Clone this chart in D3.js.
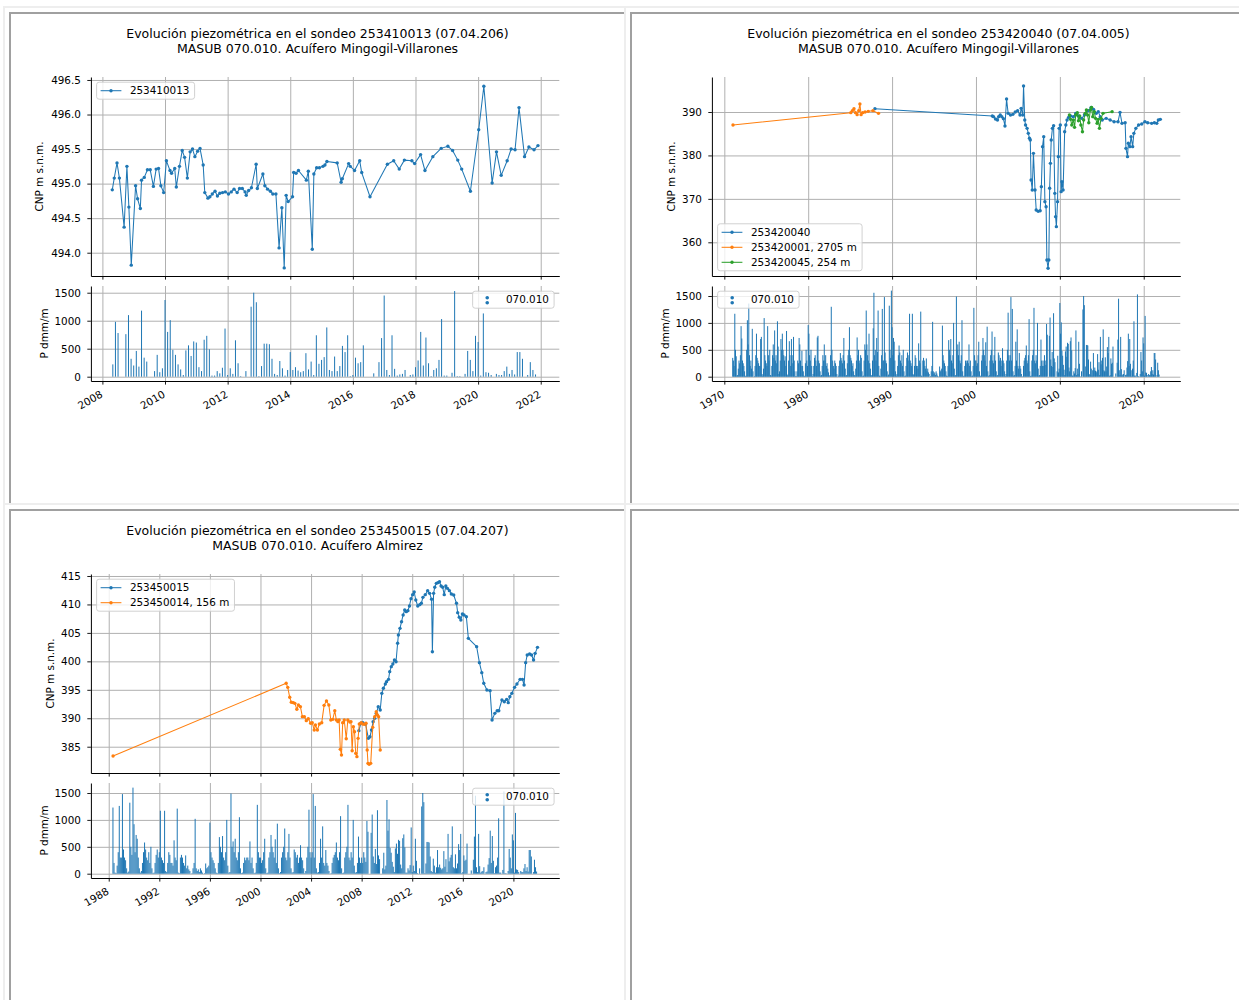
<!DOCTYPE html>
<html><head><meta charset="utf-8">
<script src="https://cdn.jsdelivr.net/npm/d3@7"></script>
<style>body{margin:0;background:#fff}svg{display:block}text{font-family:"DejaVu Sans",sans-serif}</style>
</head><body><svg id="c" width="1239" height="1003"></svg>
<script>
// ---------------- DATA ----------------
// Panel 1: 253410013
const tlDates=[2008.316,2008.379,2008.467,2008.543,2008.694,2008.783,2008.846,2008.922,2009.060,2009.124,2009.212,2009.250,2009.338,2009.439,2009.528,2009.629,2009.717,2009.793,2009.868,2009.957,2010.045,2010.159,2010.209,2010.310,2010.361,2010.462,2010.550,2010.626,2010.714,2010.803,2010.878,2010.954,2011.043,2011.118,2011.219,2011.270,2011.371,2011.434,2011.510,2011.598,2011.674,2011.750,2011.838,2011.926,2012.027,2012.116,2012.204,2012.305,2012.381,2012.469,2012.558,2012.595,2012.671,2012.760,2012.911,2012.949,2013.126,2013.189,2013.277,2013.366,2013.442,2013.542,2013.643,2013.732,2013.807,2013.870,2013.934,2014.072,2014.110,2014.186,2014.262,2014.514,2014.577,2014.704,2014.754,2014.843,2014.931,2015.045,2015.108,2015.171,2015.499,2015.625,2015.663,2015.865,2015.916,2016.054,2016.219,2016.282,2016.547,2017.102,2017.304,2017.481,2017.645,2017.885,2017.973,2018.163,2018.302,2018.554,2018.819,2019.034,2019.185,2019.350,2019.476,2019.754,2020.019,2020.183,2020.448,2020.587,2020.738,2020.928,2021.054,2021.180,2021.307,2021.483,2021.622,2021.786,2021.912];
const tlLevels=[494.91,495.08,495.30,495.08,494.37,495.25,494.66,493.82,494.97,494.78,494.64,495.05,495.09,495.20,495.20,494.96,495.21,495.22,494.97,494.87,495.33,495.19,495.15,495.22,494.95,495.25,495.48,495.38,495.08,495.46,495.50,495.39,495.47,495.51,495.27,494.87,494.79,494.81,494.85,494.89,494.82,494.86,494.87,494.88,494.85,494.88,494.92,494.87,494.93,494.93,494.88,494.83,494.90,494.94,495.28,494.93,495.14,494.97,494.92,494.89,494.85,494.85,494.07,494.65,493.78,494.83,494.74,494.81,495.16,495.15,495.19,495.05,495.18,494.05,495.14,495.23,495.23,495.25,495.27,495.32,495.30,495.02,495.07,495.29,495.25,495.19,495.33,495.16,494.81,495.28,495.33,495.21,495.34,495.33,495.29,495.42,495.19,495.39,495.51,495.54,495.48,495.34,495.21,494.89,495.78,496.41,495.01,495.46,495.12,495.33,495.50,495.49,496.10,495.39,495.53,495.49,495.55];

// Panel 2: 253420040 and neighbours
const trBlueDates=[1987.955,2001.951,2002.093,2002.328,2002.564,2002.705,2002.894,2003.082,2003.271,2003.459,2003.648,2003.836,2004.119,2004.402,2004.685,2004.967,2005.250,2005.391,2005.580,2005.674,2005.816,2005.910,2006.098,2006.240,2006.381,2006.475,2006.569,2006.711,2006.852,2007.041,2007.182,2007.418,2007.653,2007.795,2007.936,2008.078,2008.219,2008.360,2008.455,2008.596,2008.690,2008.785,2008.879,2008.973,2009.115,2009.256,2009.397,2009.491,2009.586,2009.727,2009.821,2009.915,2010.057,2010.151,2010.245,2010.387,2010.575,2010.716,2010.858,2011.046,2011.282,2011.612,2011.895,2012.224,2012.601,2012.931,2013.402,2013.732,2014.015,2014.345,2014.581,2014.816,2015.052,2015.523,2015.994,2016.466,2016.937,2017.173,2017.408,2017.785,2017.880,2018.068,2018.162,2018.351,2018.492,2018.681,2018.822,2019.058,2019.388,2019.765,2020.141,2020.471,2020.943,2021.272,2021.555,2021.744,2021.979];
const trBlueLevels=[390.77,389.08,388.93,388.39,388.16,388.93,389.31,388.93,388.47,386.78,392.99,389.69,389.31,389.46,390.00,390.31,389.31,390.84,389.31,395.99,388.16,387.01,386.24,385.09,383.94,383.55,374.34,372.04,380.48,372.04,367.44,367.13,367.28,372.81,382.02,384.32,369.36,368.20,355.92,354.01,355.92,372.43,378.18,383.55,386.24,386.85,371.27,365.90,363.60,369.36,379.72,386.24,387.01,371.66,373.96,372.04,385.47,387.01,388.16,388.77,389.08,388.93,389.69,389.08,388.54,389.31,390.31,391.07,390.61,389.69,390.08,388.93,388.16,388.54,388.16,387.77,387.77,389.92,387.39,387.54,381.63,379.72,382.79,382.02,384.32,382.02,385.09,386.24,387.01,387.24,387.77,387.54,387.39,387.54,387.39,388.16,388.31];
const trOrangeDates=[1971.037,1985.080,1985.269,1985.457,1985.646,1985.834,1986.023,1986.164,1986.305,1986.494,1986.777,1987.154,1987.720,1988.379];
const trOrangeLevels=[387.01,389.85,390.31,390.77,389.85,389.39,390.31,391.84,389.39,389.85,390.00,390.15,390.31,389.69];
const trGreenDates=[2011.140,2011.282,2011.423,2011.612,2011.753,2011.895,2012.083,2012.224,2012.366,2012.507,2012.696,2012.837,2013.026,2013.167,2013.308,2013.450,2013.638,2013.780,2013.921,2014.109,2014.251,2014.439,2014.581,2014.722,2014.911,2015.146,2016.230];
const trGreenLevels=[389.31,388.31,387.01,388.16,386.47,389.31,389.85,388.00,389.08,387.01,385.47,388.16,389.69,390.46,389.31,387.54,390.46,391.07,388.93,390.08,388.54,387.39,388.31,386.24,388.54,389.69,390.08];

// Panel 3: 253450015 and neighbour
const blBlueDates=[2007.781,2007.938,2008.094,2008.313,2008.531,2008.656,2008.781,2008.906,2009.031,2009.156,2009.313,2009.469,2009.594,2009.719,2009.875,2009.969,2010.125,2010.219,2010.344,2010.469,2010.594,2010.719,2010.844,2010.906,2011.031,2011.156,2011.281,2011.406,2011.531,2011.656,2011.781,2011.906,2012.031,2012.156,2012.281,2012.438,2012.594,2012.719,2012.844,2013.031,2013.219,2013.375,2013.531,2013.594,2013.688,2013.781,2013.906,2014.031,2014.156,2014.281,2014.406,2014.531,2014.656,2014.781,2014.938,2015.094,2015.281,2015.500,2015.594,2015.719,2015.844,2015.969,2016.094,2016.281,2016.438,2017.094,2017.313,2017.500,2017.656,2017.906,2018.156,2018.313,2018.531,2018.719,2018.844,2019.094,2019.281,2019.469,2019.594,2019.719,2019.875,2020.094,2020.281,2020.531,2020.719,2020.844,2020.969,2021.094,2021.281,2021.438,2021.594,2021.719,2021.906];
const blBlueLevels=[387.82,389.11,389.22,388.99,386.47,386.76,387.93,389.40,389.99,390.86,392.04,391.45,394.38,395.26,396.02,396.43,396.84,398.19,399.07,399.53,400.24,399.94,403.17,404.63,405.80,406.97,408.15,409.02,408.73,408.91,409.73,411.02,411.72,412.19,410.78,409.73,409.96,410.20,411.25,411.72,412.42,411.95,410.90,401.70,411.95,413.01,413.71,413.83,414.00,413.24,413.01,411.72,413.24,412.83,412.42,411.84,411.66,410.20,408.56,407.74,407.27,408.32,408.15,407.85,404.04,402.58,399.77,398.01,396.14,394.96,394.85,389.69,390.86,391.33,391.33,393.21,392.91,393.32,392.74,393.79,394.38,395.43,396.02,396.84,396.84,395.84,399.77,401.12,401.29,401.12,400.24,401.41,402.46];
const blOrangeDates=[1988.344,2002.031,2002.156,2002.313,2002.438,2002.594,2002.719,2002.875,2003.000,2003.156,2003.313,2003.469,2003.625,2003.781,2003.969,2004.094,2004.250,2004.344,2004.500,2004.656,2004.844,2005.031,2005.219,2005.406,2005.563,2005.719,2005.875,2006.000,2006.125,2006.219,2006.313,2006.406,2006.500,2006.625,2006.781,2006.906,2007.063,2007.156,2007.250,2007.344,2007.438,2007.531,2007.625,2007.719,2007.813,2007.969,2008.094,2008.219,2008.344,2008.438,2008.500,2008.594,2008.719,2008.875,2009.031,2009.156,2009.250,2009.344,2009.469];
const blOrangeLevels=[383.37,396.14,395.43,393.68,392.80,392.74,392.62,391.57,392.33,392.04,390.28,390.28,389.58,389.93,389.11,389.22,387.93,388.81,387.93,388.99,389.22,392.27,393.03,392.33,389.69,389.81,391.33,389.69,389.40,389.69,384.54,383.54,389.22,389.69,386.41,389.69,389.34,389.40,384.30,388.52,387.64,383.83,383.25,386.47,388.99,389.22,388.99,388.93,389.11,384.42,382.08,381.90,382.08,388.40,390.28,391.16,390.57,390.28,384.42];

// Monthly precipitation, station 070.010 (dmm/month), Jan 1971 .. Dec 2021
const precipStartYear=1971;
const precip=[
350,300,200,1170,500,380,20,30,150,300,250,400,
940,710,300,250,200,100,10,20,500,1050,600,1360,
400,200,300,150,890,100,0,10,200,400,800,350,
300,250,200,200,700,740,50,20,150,1090,400,300,
250,200,940,400,300,500,30,20,200,400,600,350,
860,300,400,250,1030,560,50,100,300,700,500,800,
500,400,300,380,200,850,40,20,300,660,400,200,
700,400,250,740,300,100,10,10,100,300,250,720,
600,300,200,480,200,100,20,10,250,500,300,200,
960,800,400,300,500,200,10,50,200,350,400,300,
200,730,760,300,250,100,20,30,200,400,300,600,
300,400,200,250,150,80,10,30,400,1300,500,300,
200,150,300,250,200,50,0,20,200,300,440,350,
300,250,400,720,300,150,20,30,250,400,500,920,
400,350,300,200,250,100,30,20,150,300,730,400,
500,300,250,400,350,100,10,20,300,600,500,1230,
600,400,300,800,250,150,20,30,300,900,1560,400,
500,300,720,460,1230,200,20,10,150,400,1260,300,
300,1480,450,300,250,100,20,40,1320,500,350,1600,
920,400,720,650,300,100,20,50,200,400,580,450,
300,250,400,200,500,100,10,20,200,350,450,300,
400,1170,300,250,200,1170,50,30,200,400,350,200,
200,150,620,300,250,1210,20,10,300,350,300,200,
150,340,100,150,80,50,0,10,100,200,1020,100,
50,80,30,100,60,20,0,10,190,100,120,150,
950,400,300,250,200,100,20,10,200,680,500,400,
700,300,250,400,1000,150,20,30,1490,500,600,400,
650,300,250,400,1050,100,10,20,200,300,250,300,
300,250,600,200,300,100,10,20,200,1280,400,300,
300,200,250,400,650,100,10,20,300,400,720,500,
400,300,640,200,930,100,10,30,300,400,500,840,
300,250,400,740,300,100,20,30,450,400,300,350,
200,300,530,300,250,100,10,50,300,500,1190,400,
300,400,1480,300,1260,100,20,30,200,650,300,880,
200,150,440,200,150,50,0,10,200,300,350,400,
580,300,250,400,1070,100,10,20,300,400,500,1280,
300,250,400,300,1000,150,20,30,200,690,300,200,
300,200,400,300,220,980,780,0,0,760,1100,320,
200,460,180,1180,340,270,0,0,100,390,80,150,
1370,800,1010,480,390,220,130,30,470,560,370,630,
610,170,100,660,730,490,20,20,100,60,160,860,
30,150,50,650,240,10,0,100,0,1250,1500,1330,
10,190,590,590,580,320,50,30,280,150,20,120,
440,120,170,110,80,100,420,130,270,30,740,230,
300,350,880,120,100,360,100,190,550,440,740,10,
30,340,240,260,560,0,0,0,60,0,260,690,
1450,120,30,740,140,20,40,50,120,0,30,40,
170,290,800,200,700,240,10,120,150,300,1030,20,
20,0,70,1530,10,10,0,50,460,300,100,730,
620,20,1130,80,70,30,0,50,30,30,100,180,
50,120,40,440,440,320,0,30,260,120,40,0];
const precipLabel="070.010";

// Ticks
const tlXTicks=[2008,2010,2012,2014,2016,2018,2020,2022];
const tlYTicks=[494.0,494.5,495.0,495.5,496.0,496.5];
const trXTicks=[1970,1980,1990,2000,2010,2020];
const trYTicks=[360,370,380,390];
const blXTicks=[1988,1992,1996,2000,2004,2008,2012,2016,2020];
const blYTicks=[385,390,395,400,405,410,415];
const pTicks=[0,500,1000,1500];

const BLUE="#1f77b4",ORANGE="#ff7f0e",GREEN="#2ca02c";

// ---------------- DRAW ----------------
const svg=d3.select("#c");
svg.append("rect").attr("width",1239).attr("height",1003).attr("fill","#fff");

// cell frames
[[0,0],[1,0],[0,1],[1,1]].forEach(([c,r])=>{
  const ox=3+621*c, oy=6+497*r;
  const f=svg.append("g");
  f.append("rect").attr("x",ox).attr("y",oy).attr("width",2).attr("height",497).attr("fill","#eeeeee");
  f.append("rect").attr("x",ox).attr("y",oy).attr("width",621).attr("height",2).attr("fill","#eeeeee");
  f.append("rect").attr("x",ox+6).attr("y",oy+6).attr("width",2).attr("height",491).attr("fill","#a0a0a0");
  f.append("rect").attr("x",ox+6).attr("y",oy+6).attr("width",615).attr("height",2).attr("fill","#a0a0a0");
});

const zip=(a,b)=>a.map((d,i)=>[d,b[i]]);
const precipSeries=precip.map((v,i)=>[precipStartYear+i/12,v]);
const FS=10.4;

function legend(g,items,pos){
  const rowH=15,padTop=8.5;
  const h=rowH*items.length+2;
  const lg=g.append("g");
  const box=lg.append("rect");
  let maxW=0;
  items.forEach((it,i)=>{
    const cy=padTop+rowH*i;
    const t=lg.append("text").attr("x",33.3).attr("y",cy+3.75).attr("font-size",FS).attr("fill","#000").text(it.label);
    maxW=Math.max(maxW,t.node().getComputedTextLength());
    if(it.type==="line"){
      lg.append("line").attr("x1",4).attr("x2",24.8).attr("y1",cy).attr("y2",cy).attr("stroke",it.color).attr("stroke-width",1.04);
      lg.append("circle").attr("cx",14.4).attr("cy",cy).attr("r",1.7).attr("fill",it.color);
    } else {
      lg.append("circle").attr("cx",14.6).attr("cy",cy-2).attr("r",1.8).attr("fill",it.color);
      lg.append("circle").attr("cx",14.6).attr("cy",cy+3).attr("r",1.8).attr("fill",it.color);
    }
  });
  const w=33.3+maxW+5.2;
  box.attr("width",w).attr("height",h).attr("rx",2.5).attr("fill","#fff").attr("fill-opacity",0.8)
     .attr("stroke","#cccccc").attr("stroke-width",0.9);
  const x0=pos.left!==undefined?pos.left:pos.right-w;
  const y0=pos.top!==undefined?pos.top:pos.bottom-h;
  lg.attr("transform",`translate(${x0},${y0})`);
}

function drawPanel(p){
  const g=svg.append("g").attr("transform",`translate(${p.ox},${p.oy})`);
  const L=90.9,R=559.3,T1=77,B1=276,T2=286,B2=381;
  const x=d3.scaleLinear().domain(p.xDomain).range([L,R]);
  const y=d3.scaleLinear().domain(p.yDomain).range([B1,T1]);
  const yp=d3.scaleLinear().domain(p.pDomain).range([B2,T2]);

  g.append("text").attr("x",317.5).attr("y",37.7).attr("text-anchor","middle").attr("font-size",12.5).text(p.title1);
  g.append("text").attr("x",317.5).attr("y",53.3).attr("text-anchor","middle").attr("font-size",12.5).text(p.title2);

  // grids
  const gridStyle=s=>s.attr("stroke","#b0b0b0").attr("stroke-width",1);
  [[T1,B1],[T2,B2]].forEach(([t,b])=>{
    g.append("g").call(d3.axisBottom(x).tickValues(p.xTicks).tickSize(-(b-t)).tickFormat(""))
      .attr("transform",`translate(0,${b})`)
      .call(a=>{a.select(".domain").remove();gridStyle(a.selectAll("line"));});
  });
  g.append("g").attr("transform",`translate(${L},0)`)
    .call(d3.axisLeft(y).tickValues(p.yTicks).tickSize(-(R-L)).tickFormat(""))
    .call(a=>{a.select(".domain").remove();gridStyle(a.selectAll("line"));});
  g.append("g").attr("transform",`translate(${L},0)`)
    .call(d3.axisLeft(yp).tickValues(pTicks).tickSize(-(R-L)).tickFormat(""))
    .call(a=>{a.select(".domain").remove();gridStyle(a.selectAll("line"));});

  // precipitation bars
  const allDates=p.series.flatMap(s=>s.dates);
  const d0=d3.min(allDates)-0.06, d1=d3.max(allDates)+0.05;
  const pData=precipSeries.filter(d=>d[0]>=d0&&d[0]<=d1&&d[1]>0);
  g.append("g").selectAll("rect").data(pData).join("rect")
    .attr("x",d=>x(d[0])-0.5).attr("width",1)
    .attr("y",d=>yp(d[1])).attr("height",d=>yp(0)-yp(d[1]))
    .attr("fill",BLUE);

  // series
  const line=d3.line().x(d=>x(d[0])).y(d=>y(d[1]));
  p.series.forEach(s=>{
    const data=zip(s.dates,s.levels);
    const sg=g.append("g");
    sg.append("path").datum(data).attr("d",line).attr("fill","none").attr("stroke",s.color).attr("stroke-width",1.04).attr("stroke-linejoin","round");
    sg.selectAll("circle").data(data).join("circle").attr("cx",d=>x(d[0])).attr("cy",d=>y(d[1])).attr("r",1.7).attr("fill",s.color);
  });

  // axes (spines, ticks, labels)
  const styleAxis=a=>{
    a.attr("font-family","DejaVu Sans, sans-serif").attr("font-size",FS);
    a.select(".domain").attr("stroke","#000").attr("stroke-width",1);
    a.selectAll(".tick line").attr("stroke","#000").attr("stroke-width",0.9);
    a.selectAll(".tick text").attr("fill","#000");
  };
  g.append("g").attr("transform",`translate(0,${B1})`)
    .call(d3.axisBottom(x).tickValues(p.xTicks).tickSize(3.6).tickSizeOuter(0).tickFormat(""))
    .call(styleAxis);
  g.append("g").attr("transform",`translate(0,${B2})`)
    .call(d3.axisBottom(x).tickValues(p.xTicks).tickSize(3.6).tickSizeOuter(0).tickFormat(d3.format("d")))
    .call(styleAxis)
    .call(a=>a.selectAll(".tick text").attr("x",0.5).attr("y",15.5).attr("dy",null)
      .attr("text-anchor","end").attr("transform","rotate(-30 0.5 15.5)"));
  g.append("g").attr("transform",`translate(${L},0)`)
    .call(d3.axisLeft(y).tickValues(p.yTicks).tickSize(3.6).tickPadding(6.4).tickSizeOuter(0).tickFormat(d3.format(p.yFmt)))
    .call(styleAxis);
  g.append("g").attr("transform",`translate(${L},0)`)
    .call(d3.axisLeft(yp).tickValues(pTicks).tickSize(3.6).tickPadding(6.4).tickSizeOuter(0).tickFormat(d3.format("d")))
    .call(styleAxis);

  // y labels
  const cy1=(T1+B1)/2, cy2=(T2+B2)/2;
  g.append("text").attr("transform",`translate(${p.ylabX+3.8},${cy1}) rotate(-90)`).attr("text-anchor","middle").attr("font-size",FS).text("CNP m s.n.m.");
  g.append("text").attr("transform",`translate(${44+3.8},${cy2}) rotate(-90)`).attr("text-anchor","middle").attr("font-size",FS).text("P dmm/m");

  // legends
  const items=p.series.map(s=>({label:s.label,color:s.color,type:"line"}));
  const pad=5.2;
  if(p.legendLoc==="upper left") legend(g,items,{left:L+pad+0.5,top:T1+pad});
  else legend(g,items,{left:L+pad+0.5,bottom:B1-pad});
  const pItem=[{label:precipLabel,color:BLUE,type:"dots"}];
  if(p.pLegendLoc==="upper right") legend(g,pItem,{right:R-pad,top:T2+pad});
  else legend(g,pItem,{left:L+pad+0.5,top:T2+pad});
}

drawPanel({ox:0,oy:0,
  title1:"Evolución piezométrica en el sondeo 253410013 (07.04.206)",
  title2:"MASUB 070.010. Acuífero Mingogil-Villarones",
  xDomain:[2007.633,2022.593],yDomain:[493.663,496.543],pDomain:[-77,1620],
  xTicks:tlXTicks,yTicks:tlYTicks,yFmt:".1f",ylabX:39.5,
  series:[{dates:tlDates,levels:tlLevels,color:BLUE,label:"253410013"}],
  legendLoc:"upper left",pLegendLoc:"upper right"});

drawPanel({ox:621,oy:0,
  title1:"Evolución piezométrica en el sondeo 253420040 (07.04.005)",
  title2:"MASUB 070.010. Acuífero Mingogil-Villarones",
  xDomain:[1968.52,2024.36],yDomain:[352.24,398.06],pDomain:[-80,1686],
  xTicks:trXTicks,yTicks:trYTicks,yFmt:"d",ylabX:50,
  series:[{dates:trBlueDates,levels:trBlueLevels,color:BLUE,label:"253420040"},
          {dates:trOrangeDates,levels:trOrangeLevels,color:ORANGE,label:"253420001, 2705 m"},
          {dates:trGreenDates,levels:trGreenLevels,color:GREEN,label:"253420045, 254 m"}],
  legendLoc:"lower left",pLegendLoc:"upper left"});

drawPanel({ox:0,oy:497,
  title1:"Evolución piezométrica en el sondeo 253450015 (07.04.207)",
  title2:"MASUB 070.010. Acuífero Almirez",
  xDomain:[1986.59,2023.63],yDomain:[380.38,415.35],pDomain:[-80,1686],
  xTicks:blXTicks,yTicks:blYTicks,yFmt:"d",ylabX:50,
  series:[{dates:blBlueDates,levels:blBlueLevels,color:BLUE,label:"253450015"},
          {dates:blOrangeDates,levels:blOrangeLevels,color:ORANGE,label:"253450014, 156 m"}],
  legendLoc:"upper left",pLegendLoc:"upper right"});
</script></body></html>
